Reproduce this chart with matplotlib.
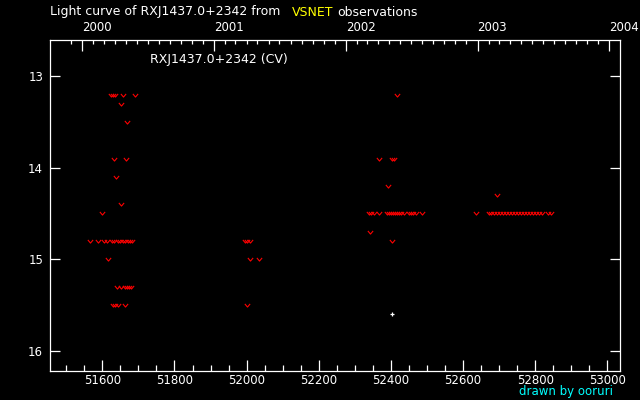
import numpy as np
import matplotlib
matplotlib.use("Agg")
import matplotlib.pyplot as plt
from matplotlib.ticker import MultipleLocator, FixedLocator

# ---- data (MJD, magnitude) ----
lim_mjd_2000 = [51623, 51629, 51635, 51658, 51691, 51652, 51669, 51633, 51666, 51638, 51652, 51600,
                51567, 51588, 51604, 51612, 51626, 51633, 51644, 51649, 51658, 51664, 51672, 51678, 51683,
                51616, 51642, 51653, 51662, 51669, 51674, 51679, 51631, 51636, 51643, 51664]
lim_mag_2000 = [13.2, 13.2, 13.2, 13.2, 13.2, 13.3, 13.5, 13.9, 13.9, 14.1, 14.4, 14.5,
                14.8, 14.8, 14.8, 14.8, 14.8, 14.8, 14.8, 14.8, 14.8, 14.8, 14.8, 14.8, 14.8,
                15.0, 15.3, 15.3, 15.3, 15.3, 15.3, 15.3, 15.5, 15.5, 15.5, 15.5]
lim_mjd_2001 = [51995, 52002, 52009, 52009, 52033, 52001]
lim_mag_2001 = [14.8, 14.8, 14.8, 15.0, 15.0, 15.5]
lim_mjd_2002 = [52417, 52366, 52403, 52409, 52392,
                52340, 52346, 52353, 52367, 52389, 52394, 52400, 52405, 52411, 52417, 52422, 52428,
                52436, 52450, 52455, 52461, 52469, 52487, 52342, 52403]
lim_mag_2002 = [13.2, 13.9, 13.9, 13.9, 14.2,
                14.5, 14.5, 14.5, 14.5, 14.5, 14.5, 14.5, 14.5, 14.5, 14.5, 14.5, 14.5,
                14.5, 14.5, 14.5, 14.5, 14.5, 14.5, 14.7, 14.8]
lim_mjd_2003 = [52695, 52636, 52672, 52677, 52685, 52694, 52702, 52710, 52719, 52727, 52735, 52744,
                52752, 52760, 52769, 52777, 52785, 52794, 52802, 52810, 52819, 52835, 52843]
lim_mag_2003 = [14.3] + [14.5] * 22
obs_mjd = [52403]
obs_mag = [15.6]

year_labels = ["2000", "2001", "2002", "2003", "2004"]
bottom_ticks = [51600, 51800, 52000, 52200, 52400, 52600, 52800, 53000]
mag_ticks = [13, 14, 15, 16]

MJD0 = np.datetime64("1858-11-17")
year_mjd = [(np.datetime64(y + "-01-01") - MJD0).astype(int) for y in year_labels]
months = np.arange(np.datetime64("1999-12"), np.datetime64("2005-01"), np.timedelta64(1, "M"))
month_mjd = [(m.astype("datetime64[D]") - MJD0).astype(int) for m in months]

lim_mjd = lim_mjd_2000 + lim_mjd_2001 + lim_mjd_2002 + lim_mjd_2003
lim_mag = lim_mag_2000 + lim_mag_2001 + lim_mag_2002 + lim_mag_2003

fig = plt.figure(figsize=(6.4, 4.0), dpi=100, facecolor="black")
ax = fig.add_axes([50 / 640, 1 - 371 / 400, 570 / 640, 331 / 400], facecolor="black")

vmark = [(-1, 0.6), (0, -0.6), (1, 0.6)]
ax.plot(lim_mjd, lim_mag, linestyle="none", marker=vmark, markersize=3.8,
        markerfacecolor="none", markeredgecolor="#ff0000", markeredgewidth=0.8)
ax.plot(obs_mjd, obs_mag, linestyle="none", marker="+", markersize=3,
        markeredgecolor="white", markeredgewidth=0.9)

ax.set_xlim(51455, 53035)
ax.set_ylim(16.224, 12.603)

for s in ax.spines.values():
    s.set_color("white")
    s.set_linewidth(0.9)

ax.xaxis.set_major_locator(FixedLocator(bottom_ticks))
ax.xaxis.set_minor_locator(MultipleLocator(50))
ax.set_xticklabels([str(t) for t in bottom_ticks])
ax.yaxis.set_major_locator(FixedLocator(mag_ticks))
ax.set_yticklabels([str(t) for t in mag_ticks])
ax.tick_params(axis="both", which="both", direction="in", colors="white", labelsize=8.5,
               top=False, right=True, width=0.9)
ax.tick_params(axis="x", which="major", length=8, pad=2)
ax.tick_params(axis="x", which="minor", length=4)
ax.tick_params(axis="y", which="major", length=7.5, pad=5)
ax.tick_params(axis="y", which="minor", left=False, right=False)

top = ax.twiny()
top.set_xlim(ax.get_xlim())
top.xaxis.set_major_locator(FixedLocator(year_mjd))
top.xaxis.set_minor_locator(FixedLocator(month_mjd))
top.set_xticklabels(year_labels)
for lab in top.get_xticklabels():
    lab.set_horizontalalignment("left")
top.tick_params(axis="x", which="both", direction="in", colors="white", labelsize=8.5, width=0.9)
top.tick_params(axis="x", which="major", length=8, pad=4)
top.tick_params(axis="x", which="minor", length=3)
for s in top.spines.values():
    s.set_visible(False)

fs = 9
fig.text(50 / 640, 1 - 12 / 400, "Light curve of RXJ1437.0+2342 from", color="white",
         fontsize=fs, va="center", ha="left")
fig.text(292 / 640, 1 - 12 / 400, "VSNET", color="yellow", fontsize=fs, va="center", ha="left")
fig.text(337 / 640, 1 - 12 / 400, "observations", color="white", fontsize=fs, va="center", ha="left")
fig.text(150 / 640, 1 - 60 / 400, "RXJ1437.0+2342 (CV)", color="white", fontsize=fs,
         va="center", ha="left")
fig.text(519 / 640, 1 - 392 / 400, "drawn by ooruri", color="cyan", fontsize=8.5,
         va="center", ha="left")

fig.savefig("out.png", dpi=100, facecolor="black")
